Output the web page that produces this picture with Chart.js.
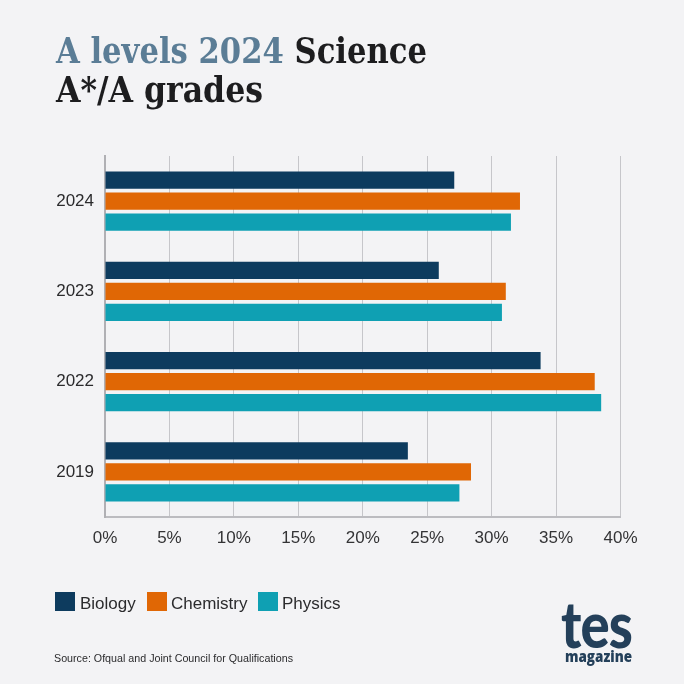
<!DOCTYPE html>
<html><head><meta charset="utf-8">
<script src="https://cdn.jsdelivr.net/npm/chart.js@4"></script>
<style>
html,body{margin:0;padding:0;background:#f3f3f5;width:684px;height:684px;overflow:hidden}
#wrap{position:relative;width:684px;height:684px}
canvas{position:absolute;left:0;top:0}
.t{position:absolute;white-space:nowrap;font-family:"DejaVu Serif Condensed","DejaVu Serif",serif;font-weight:700;font-size:35.5px;line-height:40px;color:#1d1d1f;transform-origin:0 0}
.sw{position:absolute;width:20px;height:19px;top:592px}
.lg{position:absolute;top:592.5px;font:17px/21px "Liberation Sans",sans-serif;color:#2b2b2d;white-space:nowrap;transform-origin:0 0}
#src{position:absolute;left:54px;top:651px;font:10.7px/14px "Liberation Sans",sans-serif;color:#2b2b2d;white-space:nowrap;transform-origin:0 0}
#tes{position:absolute;left:561px;top:592px;font:900 64px/64px Lato,sans-serif;color:#24405a;transform-origin:0 0;letter-spacing:-1px}
#mag{position:absolute;left:565px;top:646.5px;font:800 15px/18px "Open Sans",sans-serif;color:#24405a;transform-origin:0 0}
</style></head><body><div id="wrap">
<canvas id="c" width="684" height="684"></canvas>
<div class="t" id="t1" style="left:56px;top:31px"><span style="color:#5b7d96">A levels 2024</span> Science</div>
<div class="t" id="t2" style="left:56px;top:70px">A*/A grades</div>
<div id="legend"></div>
<div id="src">Source: Ofqual and Joint Council for Qualifications</div>
<div id="tes">tes</div>
<div id="mag">magazine</div>
</div>
<script>
const years = ["2024","2023","2022","2019"];
const biology = [27.1,25.9,33.8,23.5];
const chemistry = [32.2,31.1,38.0,28.4];
const physics = [31.5,30.8,38.5,27.5];
const seriesNames = ["Biology","Chemistry","Physics"];
const seriesColors = ["#0d3b5e","#e06705","#0fa0b3"];
const legendSwatchX = [55,147,258];
const legendTextX = [80,171,282];

const chart = new Chart(document.getElementById('c'),{
  type:'bar',
  data:{labels:years,datasets:[biology,chemistry,physics].map((d,i)=>({
    label:seriesNames[i],data:d,backgroundColor:seriesColors[i],
    categoryPercentage:0.698,barPercentage:0.81,borderWidth:0
  }))},
  options:{
    indexAxis:'y',responsive:false,animation:false,
    layout:{padding:{left:0,right:63.5,top:156,bottom:0}},
    plugins:{legend:{display:false},title:{display:false},tooltip:{enabled:false}},
    scales:{
      x:{min:0,max:40,afterFit:s=>{s.height=167},
        grid:{color:'#c6c6ca',lineWidth:1,tickLength:0},
        border:{color:'#bcbcc0',width:2},
        ticks:{stepSize:5,padding:11,maxRotation:0,autoSkip:false,color:'#333335',
          font:{family:'"Liberation Sans"',size:17},callback:v=>v+'%'}},
      y:{afterFit:s=>{s.width=105},
        grid:{display:false,tickLength:0},
        border:{color:'#b0b0b4',width:2},
        ticks:{padding:11,color:'#2b2b2d',font:{family:'"Liberation Sans"',size:17}}}
    }
  }
});

const lg=document.getElementById('legend');
chart.data.datasets.forEach((d,i)=>{
  const s=document.createElement('div');s.className='sw';s.style.left=legendSwatchX[i]+'px';s.style.background=d.backgroundColor;lg.appendChild(s);
  const t=document.createElement('div');t.className='lg';t.style.left=legendTextX[i]+'px';t.textContent=d.label;lg.appendChild(t);
});
function fit(id,w){const e=document.getElementById(id);const r=e.getBoundingClientRect().width;e.style.transform='scaleX('+(w/r)+')';}
fit('t1',371);fit('t2',207);fit('src',239);
fit('tes',71);fit('mag',67);
</script></body></html>
